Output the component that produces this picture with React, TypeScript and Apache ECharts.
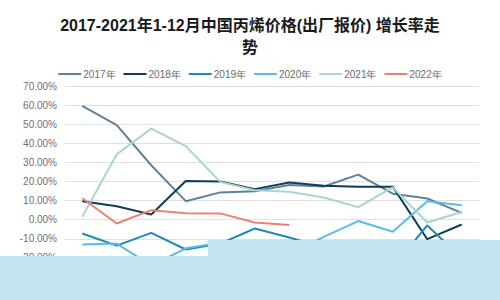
import React, { useEffect, useRef } from "react";
import * as echarts from "echarts";

const months = ["1月", "2月", "3月", "4月", "5月", "6月", "7月", "8月", "9月", "10月", "11月", "12月"];
const yTicks = { min: -30, max: 70, interval: 10 };

const y2017 = [59.6, 49.5, 28.5, 9.7, 14.3, 14.9, 18.2, 17.4, 23.6, 13.6, 11.1, 3.6];
const y2018 = [9.7, 7.0, 2.7, 20.3, 20.0, 16.0, 19.5, 17.8, 17.3, 17.3, -10.2, -2.5];
const y2019 = [-7.2, -13.6, -6.9, -15.6, -12.5, -4.6, -9.3, -14.5, -12.0, -25.0, -3.0, -20.0];
const y2020 = [-13.0, -12.5, -24.0, -15.0, -12.0, -14.0, -18.0, -9.0, -0.7, -6.3, 9.7, 7.6];
const y2021 = [1.5, 34.3, 47.7, 38.5, 19.8, 15.4, 14.6, 11.6, 6.6, 16.9, -1.5, 4.0];
const y2022 = [11.2, -2.0, 5.0, 3.4, 3.3, -1.5, -2.8];

const seriesNames = ["2017年", "2018年", "2019年", "2020年", "2021年", "2022年"];
const seriesData = [y2017, y2018, y2019, y2020, y2021, y2022];
const colors = ["#5e8299", "#0f3d57", "#1b8cb5", "#5bbde4", "#a8d5cd", "#e9826f"];

export default function App() {
  const ref = useRef<HTMLDivElement>(null);
  useEffect(() => {
    if (!ref.current) return;
    const chart = echarts.init(ref.current, undefined, { renderer: "svg" });
    chart.setOption({
      animation: false,
      backgroundColor: "#ffffff",
      title: {
        text: "2017-2021年1-12月中国丙烯价格(出厂报价) 增长率走\n势",
        left: "center",
        top: 9,
        textStyle: {
          fontSize: 16,
          fontWeight: "bold",
          color: "#1a1a1a",
          lineHeight: 22,
          fontFamily: "'Liberation Sans', 'Noto Sans CJK SC', sans-serif",
        },
      },
      legend: {
        top: 64,
        left: "center",
        icon: "rect",
        itemWidth: 23,
        itemHeight: 2,
        itemGap: 8,
        textStyle: { fontSize: 10, color: "#6b6b6b", padding: [0, 0, 0, -3] },
        data: seriesNames,
      },
      grid: { left: 65, right: 21, top: 86, bottom: 23 },
      xAxis: {
        type: "category",
        data: months,
        boundaryGap: true,
        axisLine: { show: false, onZero: true },
        axisTick: { show: false },
        axisLabel: { fontSize: 11, color: "#666666", margin: 8 },
      },
      yAxis: {
        type: "value",
        min: yTicks.min,
        max: yTicks.max,
        interval: yTicks.interval,
        axisLine: { show: false },
        axisTick: { show: false },
        axisLabel: {
          fontSize: 10,
          color: "#707070",
          margin: 8,
          formatter: (v: number) => v.toFixed(2) + "%",
        },
        splitLine: { lineStyle: { color: "#e0e0e0", width: 1 } },
      },
      series: seriesNames.map((name, i) => ({
        name,
        type: "line",
        data: seriesData[i],
        symbol: "none",
        lineStyle: { color: colors[i], width: 2 },
        itemStyle: { color: colors[i] },
      })),
      graphic: [
        {
          type: "rect",
          shape: { x: 0, y: 256, width: 208, height: 44 },
          style: { fill: "#c6e5f2" },
          z: 100,
        },
        {
          type: "rect",
          shape: { x: 208, y: 240, width: 292, height: 60 },
          style: { fill: "#c6e5f2" },
          z: 100,
        },
      ],
    });
    return () => chart.dispose();
  }, []);
  return <div ref={ref} style={{ width: 500, height: 300, position: "absolute", left: 0, top: 0 }} />;
}
